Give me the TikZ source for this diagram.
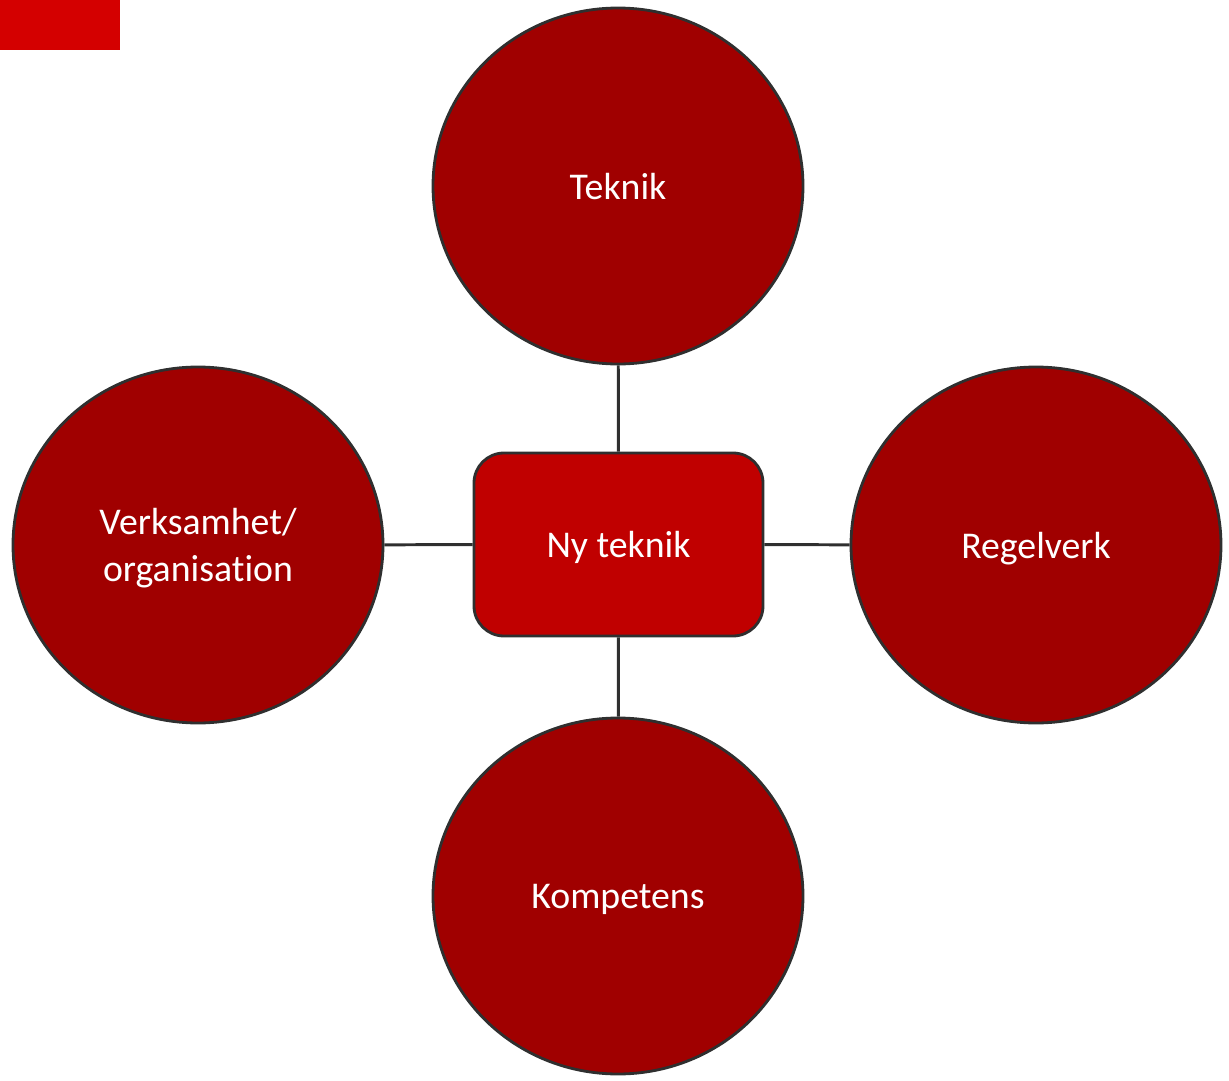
\documentclass[tikz,border=0pt]{standalone}
\usepackage{fontspec}
\setmainfont{Carlito}[Ligatures=NoCommon]
\usetikzlibrary{shapes.geometric}

\definecolor{circred}{HTML}{A00000}
\definecolor{boxred}{HTML}{C00000}
\definecolor{tabred}{HTML}{D40000}
\definecolor{edge}{HTML}{2F2F2F}

\tikzstyle{circ} = [ellipse, minimum width=7.4cm, minimum height=7.12cm, fill=circred, draw=edge, line width=1.6pt, text=white, align=center, text depth=0pt, font=\fontsize{21.5}{26.8}\selectfont]
\tikzstyle{core} = [rectangle, rounded corners=0.6cm, minimum width=5.78cm, minimum height=3.66cm, fill=boxred, draw=edge, line width=1.6pt, text=white, text depth=0pt, font=\fontsize{21.5}{26.8}\selectfont]
\tikzstyle{link} = [draw=edge, line width=1.7pt]

\begin{document}
\begin{tikzpicture}
\useasboundingbox (0,0) rectangle (24.58,-21.62);
\fill [tabred] (0,0) rectangle (2.4,-1.0);

\node (nyteknik) [core] at (12.37, -10.89) {Ny teknik};
\node (teknik) [circ] at (12.36, -3.72) {Teknik};
\node (regelverk) [circ] at (20.72, -10.9) {Regelverk};
\node (verksamhet) [circ] at (3.96, -10.9) {Verksamhet/\\organisation};
\node (kompetens) [circ] at (12.36, -17.92) {Kompetens};

\draw [link] (teknik) -- (nyteknik);
\draw [link] (nyteknik) -- (regelverk);
\draw [link] (verksamhet) -- (nyteknik);
\draw [link] (nyteknik) -- (kompetens);
\end{tikzpicture}
\end{document}
